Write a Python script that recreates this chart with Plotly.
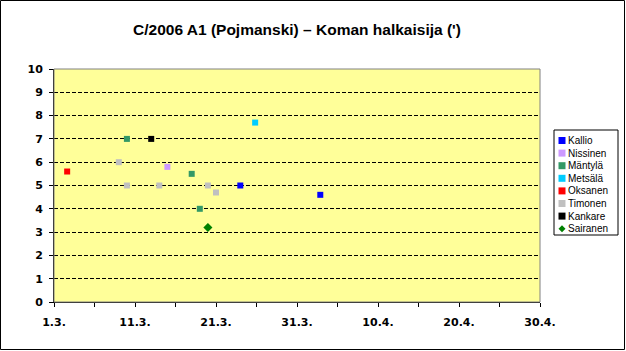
import plotly.graph_objects as go

W, H = 626, 351

title_text = "C/2006 A1 (Pojmanski) – Koman halkaisija (')"

series_names = ["Kallio", "Nissinen", "Mäntylä", "Metsälä", "Oksanen", "Timonen", "Kankare", "Sairanen"]
series_colors = ["#0000FF", "#CC99FF", "#339966", "#00CCFF", "#FF0000", "#C0C0C0", "#000000", "#008000"]
series_symbols = ["square", "square", "square", "square", "square", "square", "square", "diamond"]

kallio_x = ["2006-03-24", "2006-04-02 21:00"]
kallio_y = [5.0, 4.6]
nissinen_x = ["2006-03-15"]
nissinen_y = [5.8]
mantyla_x = ["2006-03-10", "2006-03-18", "2006-03-19"]
mantyla_y = [7.0, 5.5, 4.0]
metsala_x = ["2006-03-25 20:00"]
metsala_y = [7.7]
oksanen_x = ["2006-03-02 15:00"]
oksanen_y = [5.6]
timonen_x = ["2006-03-09", "2006-03-10", "2006-03-14", "2006-03-20", "2006-03-21"]
timonen_y = [6.0, 5.0, 5.0, 5.0, 4.7]
kankare_x = ["2006-03-13"]
kankare_y = [7.0]
sairanen_x = ["2006-03-20"]
sairanen_y = [3.2]

series_x = [kallio_x, nissinen_x, mantyla_x, metsala_x, oksanen_x, timonen_x, kankare_x, sairanen_x]
series_y = [kallio_y, nissinen_y, mantyla_y, metsala_y, oksanen_y, timonen_y, kankare_y, sairanen_y]

x_tick_vals = ["2006-03-01", "2006-03-11", "2006-03-21", "2006-03-31", "2006-04-10", "2006-04-20", "2006-04-30"]
x_tick_text = ["1.3.", "11.3.", "21.3.", "31.3.", "10.4.", "20.4.", "30.4."]
y_tick_vals = list(range(0, 11))

# layout geometry (pixels)
PL, PR, PT, PB = 54, 540, 69, 302
LL, LR, LT, LB = 554, 618, 130, 235
PW, PH = PR - PL, PB - PT


def px(x):
    return (x - PL) / PW


def py(y):
    return (PB - y) / PH


fig = go.Figure()

for name, col, sym, xs, ys in zip(series_names, series_colors, series_symbols, series_x, series_y):
    fig.add_trace(go.Scatter(
        x=xs, y=ys, mode="markers", name=name,
        marker=dict(color=col, symbol=sym, size=7 if sym == "diamond" else 6, line=dict(width=0)),
        showlegend=False, cliponaxis=False,
    ))

shapes = [
    # outer chart border
    dict(type="rect", xref="paper", yref="paper", x0=px(0.5), x1=px(624.5), y0=py(0.5), y1=py(349.5),
         line=dict(color="black", width=1), layer="below"),
    # plot area border (grey)
    dict(type="rect", xref="paper", yref="paper", x0=px(PL), x1=px(PR), y0=py(PT), y1=py(PB),
         line=dict(color="#808080", width=1), layer="above"),
    # legend box
    dict(type="rect", xref="paper", yref="paper", x0=px(LL), x1=px(LR), y0=py(LT), y1=py(LB),
         line=dict(color="black", width=1), fillcolor="white", layer="below"),
]

annotations = []
for i, (name, col, sym) in enumerate(zip(series_names, series_colors, series_symbols)):
    cy = LT + 10.5 + i * 12.6
    cx = LL + 8
    if sym == "diamond":
        r = 3.5
        path = "M {} {} L {} {} L {} {} L {} {} Z".format(
            px(cx), py(cy - r), px(cx + r), py(cy), px(cx), py(cy + r), px(cx - r), py(cy))
        shapes.append(dict(type="path", xref="paper", yref="paper", path=path,
                           fillcolor=col, line=dict(width=0), layer="above"))
    else:
        r = 3.5
        shapes.append(dict(type="rect", xref="paper", yref="paper",
                           x0=px(cx - r), x1=px(cx + r), y0=py(cy - r), y1=py(cy + r),
                           fillcolor=col, line=dict(width=0), layer="above"))
    annotations.append(dict(
        x=px(LL + 12), y=py(cy), xref="paper", yref="paper", text=name, showarrow=False,
        xanchor="left", yanchor="middle",
        font=dict(family="Liberation Sans, Arial", size=10, color="black"),
    ))

tick_font = dict(family="DejaVu Sans", size=11, color="black", weight="bold")

fig.update_layout(
    width=W, height=H,
    margin=dict(l=PL, r=W - PR, t=PT, b=H - PB, pad=0, autoexpand=False),
    paper_bgcolor="white",
    plot_bgcolor="#FFFF99",
    title=dict(text=title_text, x=(PL + PR) / 2 / W, xanchor="center",
               y=1 - 30 / H, yanchor="middle",
               font=dict(family="Liberation Sans, Arial", size=15.5, color="black", weight="bold")),
    xaxis=dict(
        type="date",
        range=["2006-03-01", "2006-04-30"],
        tickvals=x_tick_vals, ticktext=x_tick_text,
        ticks="outside", ticklen=4, tickcolor="black", tickwidth=1,
        minor=dict(dtick=5 * 86400000, tick0="2006-03-01", ticks="outside", ticklen=4,
                   tickcolor="black", showgrid=False),
        showgrid=False, zeroline=False,
        showline=True, linecolor="black", linewidth=1,
        tickfont=tick_font, ticklabelstandoff=6,
        fixedrange=True, automargin=False,
    ),
    yaxis=dict(
        range=[0, 10],
        tickvals=y_tick_vals,
        ticks="outside", ticklen=4, tickcolor="black", tickwidth=1,
        showgrid=True, gridcolor="black", griddash="4px,2px", gridwidth=1,
        zeroline=False,
        showline=True, linecolor="black", linewidth=1,
        tickfont=tick_font, ticklabelstandoff=4,
        fixedrange=True, automargin=False,
    ),
    annotations=annotations,
    shapes=shapes,
    showlegend=False,
)

fig.write_html("out.html")
